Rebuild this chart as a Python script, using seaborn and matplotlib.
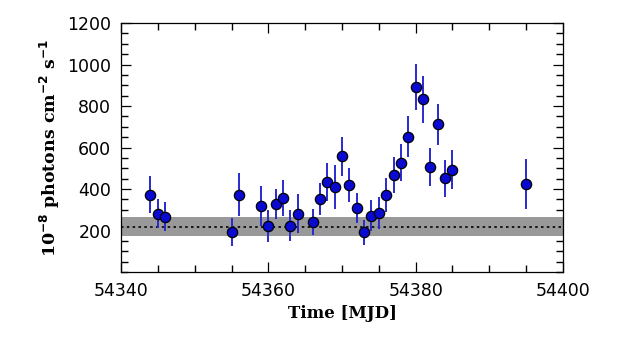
import numpy as np
import pandas as pd
import matplotlib
matplotlib.use("Agg")
import matplotlib.pyplot as plt
import seaborn as sns
from matplotlib.ticker import MultipleLocator

# Dados da curva de luz
mjd = [54344, 54345, 54346, 54355, 54356, 54359, 54360, 54361, 54362, 54363,
       54364, 54366, 54367, 54368, 54369, 54370, 54371, 54372, 54373, 54374,
       54375, 54376, 54377, 54378, 54379, 54380, 54381, 54382, 54383, 54384,
       54385, 54395]
fluxo = [373, 280, 267, 194, 373, 320, 222, 326, 358, 224,
         280, 241, 353, 434, 410, 559, 418, 307, 192, 271,
         284, 371, 467, 527, 652, 893, 832, 507, 712, 451,
         493, 425]
erro = [88, 70, 71, 68, 104, 96, 75, 72, 86, 74,
        94, 64, 77, 92, 104, 94, 83, 72, 60, 74,
        77, 83, 88, 90, 100, 111, 113, 92, 100, 90,
        95, 120]

# Nível médio e faixa de incerteza
nivel_medio = 218
faixa = (175, 264)

df = pd.DataFrame({"mjd": mjd, "fluxo": fluxo, "erro": erro})

sns.set_style("ticks")
plt.rcParams["font.family"] = ["DejaVu Sans"]
plt.rcParams["text.color"] = "black"
plt.rcParams["axes.labelcolor"] = "black"
plt.rcParams["xtick.color"] = "black"
plt.rcParams["ytick.color"] = "black"
plt.rcParams["axes.edgecolor"] = "black"
plt.rcParams["xtick.direction"] = "in"
plt.rcParams["ytick.direction"] = "in"
plt.rcParams["xtick.minor.visible"] = True
plt.rcParams["ytick.minor.visible"] = True

fig = plt.figure(figsize=(6.41, 3.47), dpi=100)
ax = fig.add_axes([0.1888, 0.2161, 0.6895, 0.7176])

ax.axhspan(faixa[0], faixa[1], color="#999999", lw=0, zorder=1)
ax.axhline(nivel_medio, color="black", linestyle=(0, (1.5, 2)), linewidth=1.2, zorder=2)

ax.errorbar(df["mjd"], df["fluxo"], yerr=df["erro"], fmt="none",
            ecolor="#2a2ad0", elinewidth=1.4, zorder=3)
sns.scatterplot(data=df, x="mjd", y="fluxo", s=55, color="#0a0ad0",
                edgecolor="black", linewidth=0.9, zorder=4, ax=ax)

ax.set_xlim(54340, 54400)
ax.set_ylim(0, 1200)
ax.set_yticks([200, 400, 600, 800, 1000, 1200])
ax.minorticks_on()
ax.xaxis.set_major_locator(MultipleLocator(20))
ax.xaxis.set_minor_locator(MultipleLocator(5))
ax.yaxis.set_minor_locator(MultipleLocator(50))
for s in ax.spines.values():
    s.set_linewidth(0.9)

ax.tick_params(which="major", direction="in", top=True, right=True,
               length=7, width=0.9, labelsize=12.5, pad=7)
ax.tick_params(which="minor", direction="in", top=True, right=True,
               bottom=True, left=True, length=5, width=1.0, color="black")

ax.set_xlabel("Time [MJD]", fontsize=12, fontweight="bold", family="DejaVu Serif", labelpad=4)
ax.set_ylabel(r"10$^{\mathbf{-8}}$ photons cm$^{\mathbf{-2}}$ s$^{\mathbf{-1}}$", fontsize=12.5,
              fontweight="bold", family="DejaVu Serif", labelpad=4)

plt.savefig("out.png", dpi=100)
